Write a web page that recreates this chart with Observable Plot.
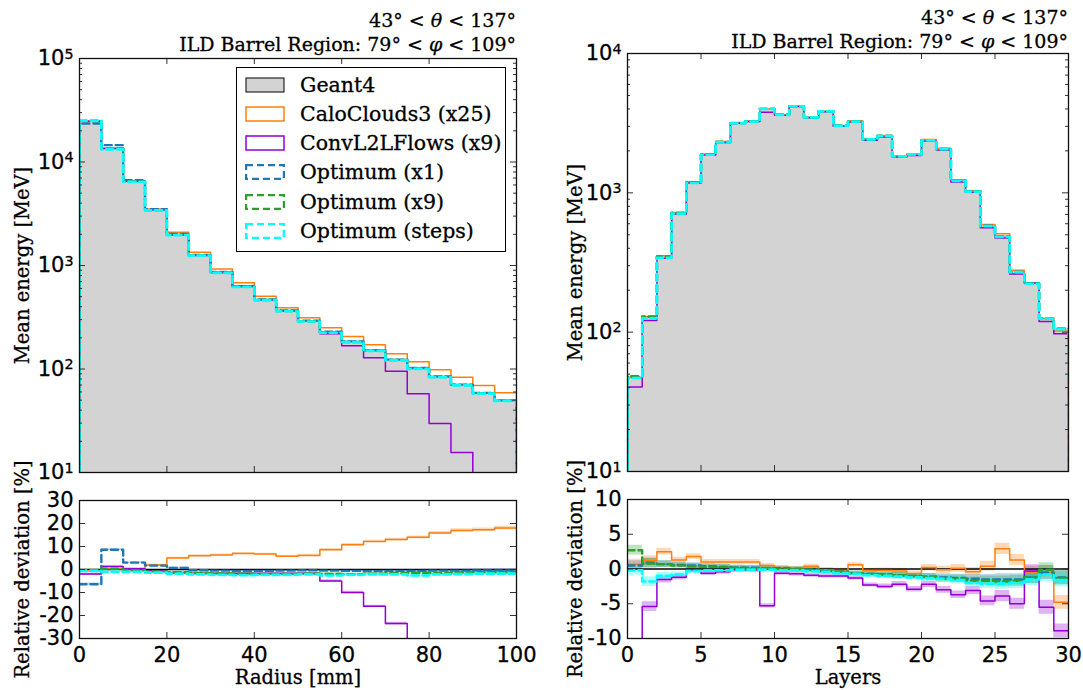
<!DOCTYPE html>
<html><head><meta charset="utf-8">
<script src="https://cdn.jsdelivr.net/npm/d3@7"></script>
<script src="https://cdn.jsdelivr.net/npm/@observablehq/plot@0.6"></script>
<style>
html,body{margin:0;padding:0;background:#fff;}
#wrap{position:relative;width:1083px;height:690px;overflow:hidden;font-family:"DejaVu Serif",serif;color:#000;}
#wrap > svg{position:absolute;left:0;top:0;}
.title{position:absolute;text-align:right;font-size:19px;line-height:24px;white-space:nowrap;-webkit-text-stroke:0.3px #000;}
.legend{position:absolute;left:236px;top:67px;width:270px;height:185px;border:1.3px solid #000;background:#fff;box-sizing:border-box;}
.row{position:absolute;left:8px;height:29px;display:flex;align-items:center;font-size:20.5px;white-space:nowrap;-webkit-text-stroke:0.3px #000;}
.row svg{margin-right:15px;}
</style></head><body><div id="wrap"></div>
<script>
// ---------------- DATA ----------------
const seriesNames = ["Geant4", "CaloClouds3 (x25)", "ConvL2LFlows (x9)", "Optimum (x1)", "Optimum (x9)", "Optimum (steps)"];

// Radial profile: bin edges [mm]
const radiusEdges = [0,5,10,15,20,25,30,35,40,45,50,55,60,65,70,75,80,85,90,95,100];
const radiusTicks = [0,20,40,60,80,100];
// Geant4 mean energy per radial bin [MeV]
const geantRadius = [25200,13400,6480,3450,2000,1270,869,636,473,370,294,230,186,153,124,103,85,71,59,50];
// Relative deviation w.r.t. Geant4 [%]
const devCaloRadius  = [-0.5,0.3,0.3,2,5,6,6.3,7,6.7,5.8,6.1,8.6,10.8,12.2,13,14,15.9,17,17.3,18];
const devConvRadius  = [-2,1.3,0.3,-0.5,-1.5,-1.7,-1.7,-1.7,-1.7,-1.7,-1.7,-5,-10,-16,-23.5,-44,-65,-78,-95,-97];
const devOpt1Radius  = [-6.4,8.6,3,1.7,0.7,-0.3,-0.5,-0.6,-0.6,-0.5,-0.4,-0.5,-0.6,-0.7,-0.6,-0.6,-0.5,-0.5,-0.4,-0.4];
const devOpt9Radius  = [-0.3,0.3,-0.3,-0.8,-1.2,-1.5,-1.7,-1.8,-1.9,-1.9,-1.8,-1.9,-2,-1.8,-1.6,-1.5,-1.5,-1.3,-1.2,-1.2];
const devOptSRadius  = [-0.6,-1,-1,-1.4,-1.8,-2.1,-2.3,-2.5,-2.3,-2.3,-2.1,-2.6,-2.3,-2.1,-2.1,-2.6,-2.1,-2,-1.8,-1.8];
const errRadius      = [0.5,0.4,0.4,0.4,0.4,0.4,0.4,0.4,0.4,0.4,0.5,0.5,0.5,0.5,0.6,0.6,0.6,0.7,0.7,0.8];

// Longitudinal profile: layer edges
const layerEdges = [0,1,2,3,4,5,6,7,8,9,10,11,12,13,14,15,16,17,18,19,20,21,22,23,24,25,26,27,28,29,30];
const layerTicks = [0,5,10,15,20,25,30];
const geantLayer = [47,128,345,714,1180,1880,2310,3160,3250,4000,3630,4190,3490,3860,3040,3270,2440,2580,1850,1910,2410,2090,1240,1040,589,494,275,226,126,107];
const devCaloLayer = [0.7,1.2,2.5,1.3,1.8,1.0,1.0,1.0,1.0,0.5,0.2,0.1,0.4,-0.1,-0.2,0.6,-0.2,-0.2,-0.3,-0.7,0.2,-0.1,0.1,-0.4,0.4,2.9,1.3,-0.5,-0.5,-4.8];
const devConvLayer = [-14,-5.4,-1.5,-1.2,-0.1,-0.6,-0.4,-0.1,-0.1,-5.3,-0.6,-0.7,-0.9,-1.0,-1.0,-1.3,-2.3,-2.5,-2.2,-2.9,-2.2,-3.0,-3.7,-3.1,-4.6,-3.9,-5.0,-0.3,-5.5,-8.9];
const devOpt1Layer = [0.5,0.9,0.7,0.6,0.5,0.4,0.3,0.2,0.2,0.1,0.1,0.0,-0.1,-0.3,-0.4,-0.6,-0.7,-0.8,-0.9,-1.0,-1.1,-1.2,-1.3,-1.4,-1.5,-1.5,-1.5,-1.2,-0.5,-1.2];
const devOpt9Layer = [2.7,0.8,0.7,0.5,0.4,0.3,0.3,0.2,0.1,0.1,0.0,0.0,-0.1,-0.2,-0.4,-0.6,-0.7,-0.8,-0.9,-1.0,-1.1,-1.4,-1.4,-1.7,-1.7,-1.8,-1.7,-1.2,-0.1,-1.3];
const devOptSLayer = [-0.2,-1.8,-1.0,-0.8,-0.3,-0.2,-0.2,-0.1,-0.1,-0.1,-0.2,-0.2,-0.3,-0.4,-0.6,-0.7,-0.9,-1.0,-1.1,-1.2,-1.3,-1.4,-1.6,-2.0,-2.1,-2.1,-2.0,-1.5,-0.8,-1.6];
const errLayer     = [0.7,0.7,0.5,0.4,0.4,0.35,0.35,0.35,0.35,0.3,0.3,0.3,0.3,0.3,0.3,0.3,0.3,0.35,0.4,0.4,0.45,0.5,0.55,0.6,0.7,0.8,0.8,0.9,1.0,1.0];

const energyTicksRadius = [10,100,1000,10000,100000];
const energyTicksLayer = [10,100,1000,10000];
const devTicksRadius = [-30,-20,-10,0,10,20,30];
const devTicksLayer = [-10,-5,0,5,10];

// ---------------- STYLE ----------------
const W = 1083, H = 690;
const GRAY = "#d3d3d3";
const styles = [
  {color: "#ff7f0e", width: 1.5, dash: null},
  {color: "#9400d3", width: 1.5, dash: null},
  {color: "#1f77b4", width: 2.4, dash: "7,4"},
  {color: "#2ca02c", width: 2.4, dash: "7,4"},
  {color: "#00ffff", width: 2.7, dash: "7,4"}
];
const MAJ = 6, MIN = 3, TICK = "#333";
const SUP = {"0":"⁰","1":"¹","2":"²","3":"³","4":"⁴","5":"⁵"};
const logFmt = d => "10" + SUP[String(Math.round(Math.log10(d)))];
const devFmt = d => String(d);
const TXT = {fill: "#000", stroke: "#000", strokeWidth: 0.3};

function stepPts(edges, vals, base) {
  const p = [];
  if (base != null) p.push({x: edges[0], y: base});
  vals.forEach((v, i) => p.push({x: edges[i], y: v}));
  p.push({x: edges[edges.length - 1], y: vals[vals.length - 1]});
  if (base != null) p.push({x: edges[edges.length - 1], y: base});
  return p;
}
function bandPts(edges, vals, err) {
  const p = vals.map((v, i) => ({x: edges[i], lo: v - err[i], hi: v + err[i]}));
  p.push({x: edges[edges.length - 1], lo: vals[vals.length - 1] - err[err.length - 1], hi: vals[vals.length - 1] + err[err.length - 1]});
  return p;
}
function minorLog(max) {
  const out = [];
  for (let d = 10; d < max; d *= 10) for (let m = 2; m <= 9; m++) out.push(d * m);
  return out;
}

function panel({left, right, top, bottom, xDomain, yDomain, yLog, xTicks, yTicks, yMinor, showX, yFmt, xLabel, yLabel, yLabelDx, marks}) {
  const fw = right - left, fh = bottom - top;
  const axisMarks = [
    Plot.ruleX(xTicks, {x: d => d, insetTop: fh - MAJ, stroke: TICK}),
    Plot.ruleX(xTicks, {x: d => d, insetBottom: fh - MAJ, stroke: TICK}),
    Plot.ruleY(yTicks, {y: d => d, insetRight: fw - MAJ, stroke: TICK}),
    Plot.ruleY(yTicks, {y: d => d, insetLeft: fw - MAJ, stroke: TICK}),
  ];
  if (yMinor) {
    axisMarks.push(Plot.ruleY(yMinor, {y: d => d, insetRight: fw - MIN, stroke: TICK}));
    axisMarks.push(Plot.ruleY(yMinor, {y: d => d, insetLeft: fw - MIN, stroke: TICK}));
  }
  axisMarks.push(Plot.frame({stroke: "#111", strokeWidth: 1.3}));
  axisMarks.push(Plot.text(yTicks, {y: d => d, text: yFmt, frameAnchor: "left", textAnchor: "end", lineAnchor: "middle", dx: -6, fontSize: 21, fontFamily: "DejaVu Sans", ...TXT}));
  if (showX) {
    axisMarks.push(Plot.text(xTicks, {x: d => d, text: d => String(d), frameAnchor: "bottom", textAnchor: "middle", lineAnchor: "middle", dy: 17, fontSize: 21, fontFamily: "DejaVu Sans", ...TXT}));
    axisMarks.push(Plot.text([xLabel], {text: d => d, frameAnchor: "bottom", textAnchor: "middle", lineAnchor: "middle", dy: 39, fontSize: 19.5, fontFamily: "DejaVu Serif", ...TXT}));
  }
  axisMarks.push(Plot.text([yLabel], {text: d => d, frameAnchor: "left", textAnchor: "middle", lineAnchor: "middle", rotate: -90, dx: yLabelDx, fontSize: 19.5, fontFamily: "DejaVu Serif", ...TXT}));
  const svg = Plot.plot({
    width: W, height: H,
    marginLeft: left, marginRight: W - right, marginTop: top, marginBottom: H - bottom,
    style: {background: "transparent", overflow: "visible"},
    x: {domain: xDomain, axis: null},
    y: {domain: yDomain, type: yLog ? "log" : "linear", axis: null},
    marks: [...marks, ...axisMarks]
  });
  // render power-of-ten labels with a real raised exponent
  const inv = Object.fromEntries(Object.entries(SUP).map(([k, v]) => [v, k]));
  svg.querySelectorAll("text").forEach(t => {
    const m = /^10([⁰¹²³⁴⁵])$/.exec(t.textContent);
    if (m) {
      t.textContent = "10";
      const ts = document.createElementNS("http://www.w3.org/2000/svg", "tspan");
      ts.setAttribute("dy", "-0.45em");
      ts.setAttribute("font-size", "0.68em");
      ts.textContent = inv[m[1]];
      t.append(ts);
    }
  });
  return svg;
}

function energyMarks(edges, geant, devs, base) {
  const m = [Plot.areaY(stepPts(edges, geant), {x: "x", y1: base, y2: "y", curve: "step-after", fill: GRAY})];
  devs.forEach((dev, k) => {
    const vals = geant.map((g, i) => g * (1 + dev[i] / 100));
    const s = styles[k];
    m.push(Plot.line(stepPts(edges, vals, base), {x: "x", y: "y", curve: "step-after", stroke: s.color, strokeWidth: s.width, strokeDasharray: s.dash, clip: true}));
  });
  return m;
}
function devMarks(edges, devs, err) {
  const m = [];
  devs.forEach((dev, k) => {
    m.push(Plot.areaY(bandPts(edges, dev, err), {x: "x", y1: "lo", y2: "hi", curve: "step-after", fill: styles[k].color, fillOpacity: 0.3, clip: true}));
  });
  m.push(Plot.ruleY([0], {stroke: "#000", strokeWidth: 1.3}));
  devs.forEach((dev, k) => {
    const s = styles[k];
    m.push(Plot.line(stepPts(edges, dev), {x: "x", y: "y", curve: "step-after", stroke: s.color, strokeWidth: s.width, strokeDasharray: s.dash, clip: true}));
  });
  return m;
}

const devsRadius = [devCaloRadius, devConvRadius, devOpt1Radius, devOpt9Radius, devOptSRadius];
const devsLayer = [devCaloLayer, devConvLayer, devOpt1Layer, devOpt9Layer, devOptSLayer];

const wrap = document.getElementById("wrap");

wrap.append(panel({left: 79, right: 516, top: 58, bottom: 472, xDomain: [0, 100], yDomain: [10, 1e5], yLog: true,
  xTicks: radiusTicks, yTicks: energyTicksRadius, yMinor: minorLog(1e5), showX: false, yFmt: logFmt,
  yLabel: "Mean energy [MeV]", yLabelDx: -57, marks: energyMarks(radiusEdges, geantRadius, devsRadius, 10)}));

wrap.append(panel({left: 79, right: 516, top: 500, bottom: 638, xDomain: [0, 100], yDomain: [-30, 30], yLog: false,
  xTicks: radiusTicks, yTicks: devTicksRadius, yMinor: null, showX: true, yFmt: devFmt,
  xLabel: "Radius [mm]", yLabel: "Relative deviation [%]", yLabelDx: -57, marks: devMarks(radiusEdges, devsRadius, errRadius)}));

wrap.append(panel({left: 627, right: 1068, top: 53, bottom: 471, xDomain: [0, 30], yDomain: [10, 1e4], yLog: true,
  xTicks: layerTicks, yTicks: energyTicksLayer, yMinor: minorLog(1e4), showX: false, yFmt: logFmt,
  yLabel: "Mean energy [MeV]", yLabelDx: -52, marks: energyMarks(layerEdges, geantLayer, devsLayer, 10)}));

wrap.append(panel({left: 627, right: 1068, top: 499, bottom: 638, xDomain: [0, 30], yDomain: [-10, 10], yLog: false,
  xTicks: layerTicks, yTicks: devTicksLayer, yMinor: null, showX: true, yFmt: devFmt,
  xLabel: "Layers", yLabel: "Relative deviation [%]", yLabelDx: -52, marks: devMarks(layerEdges, devsLayer, errLayer)}));

// Titles
function title(rightPx, topPx) {
  const d = document.createElement("div");
  d.className = "title";
  d.style.right = rightPx + "px";
  d.style.top = topPx + "px";
  d.innerHTML = '43° &lt; <i>θ</i> &lt; 137°<br>ILD Barrel Region: 79° &lt; <i>φ</i> &lt; 109°';
  wrap.append(d);
}
title(W - 516, 8);
title(W - 1068, 5);

// Legend
const leg = document.createElement("div");
leg.className = "legend";
const rowCenters = [17, 46, 75, 104, 134, 163];
seriesNames.forEach((name, i) => {
  const r = document.createElement("div");
  r.className = "row";
  r.style.top = (rowCenters[i] - 14.5) + "px";
  let rect;
  if (i === 0) rect = `<rect x="1" y="1" width="38" height="14" fill="${GRAY}" stroke="#000" stroke-width="1"/>`;
  else {
    const s = styles[i - 1];
    rect = `<rect x="1" y="1" width="38" height="14" fill="none" stroke="${s.color}" stroke-width="${s.width}" ${s.dash ? `stroke-dasharray="${s.dash}"` : ""}/>`;
  }
  r.innerHTML = `<svg width="40" height="16">${rect}</svg><span>${name}</span>`;
  leg.append(r);
});
wrap.append(leg);
</script></body></html>
